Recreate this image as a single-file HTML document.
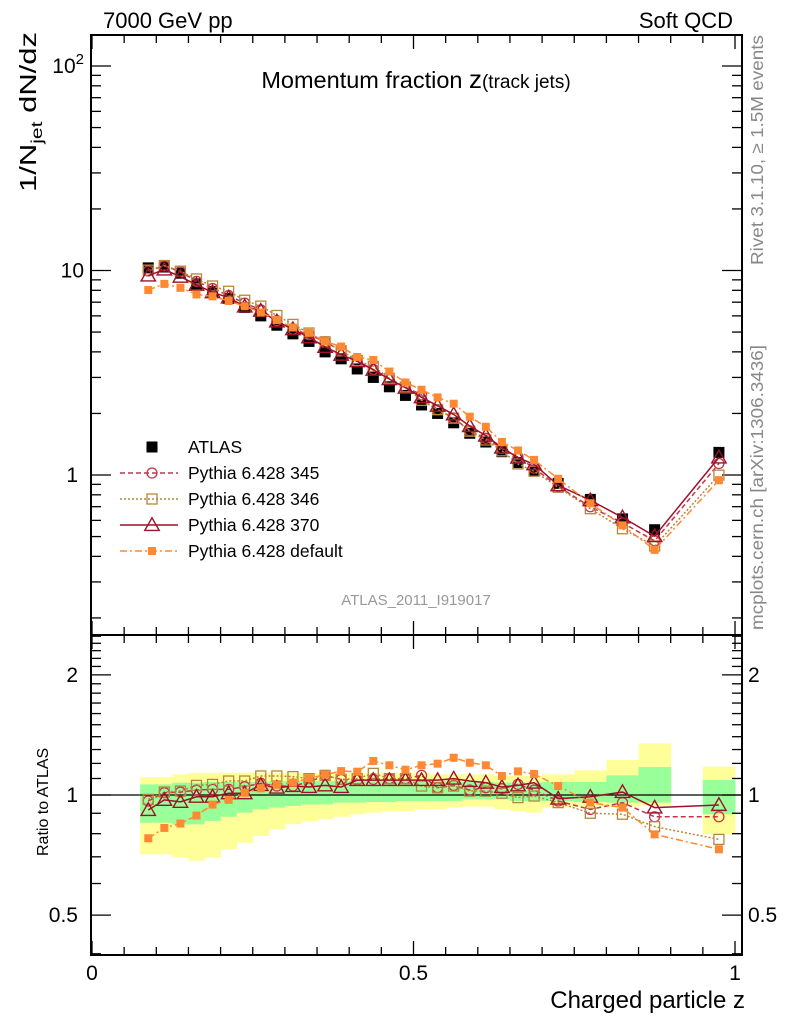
<!DOCTYPE html>
<html><head><meta charset="utf-8">
<style>
html,body{margin:0;padding:0;background:#fff;}
svg{display:block;font-family:"Liberation Sans",Arial,sans-serif;}
</style></head>
<body>
<svg id="chart" width="786" height="1024" viewBox="0 0 786 1024" xmlns="http://www.w3.org/2000/svg">
<g id="bands"></g>
<g id="grid"></g>
<g id="series"></g>
<text x="103" y="28" font-size="22">7000 GeV pp</text>
<text x="733" y="28" font-size="22" text-anchor="end">Soft QCD</text>
<text x="416" y="88" font-size="23.5" text-anchor="middle">Momentum fraction <tspan font-size="26">z</tspan><tspan font-size="19">(track jets)</tspan></text>
<text transform="translate(36,192) rotate(-90)" font-size="23.5" textLength="160" lengthAdjust="spacingAndGlyphs">1/N<tspan font-size="16" dy="6">jet</tspan><tspan dy="-6"> dN/dz</tspan></text>
<text transform="translate(48,856) rotate(-90)" font-size="16">Ratio to ATLAS</text>
<text x="745" y="1008" font-size="24" text-anchor="end">Charged particle z</text>
<text transform="translate(763,265) rotate(-90)" font-size="17.5" fill="#888" textLength="230" lengthAdjust="spacingAndGlyphs">Rivet 3.1.10, ≥ 1.5M events</text>
<text transform="translate(763,630) rotate(-90)" font-size="17.5" fill="#888" textLength="285" lengthAdjust="spacingAndGlyphs">mcplots.cern.ch [arXiv:1306.3436]</text>
<text x="416" y="605" font-size="15" fill="#999" text-anchor="middle">ATLAS_2011_I919017</text>
<g id="legend"></g>
</svg>
<script>
// Bin centres (z)
const zCenters = [0.0875,0.1125,0.1375,0.1625,0.1875,0.2125,0.2375,0.2625,0.2875,0.3125,0.3375,0.3625,0.3875,0.4125,0.4375,0.4625,0.4875,0.5125,0.5375,0.5625,0.5875,0.6125,0.6375,0.6625,0.6875,0.725,0.775,0.825,0.875,0.975];
const zHalfW = [0.0125,0.0125,0.0125,0.0125,0.0125,0.0125,0.0125,0.0125,0.0125,0.0125,0.0125,0.0125,0.0125,0.0125,0.0125,0.0125,0.0125,0.0125,0.0125,0.0125,0.0125,0.0125,0.0125,0.0125,0.0125,0.025,0.025,0.025,0.025,0.025];
const atlas = [10.3,10.4,9.7,8.6,7.9,7.3,6.6,6.0,5.4,4.9,4.5,4.0,3.7,3.3,3.0,2.7,2.45,2.2,2.0,1.8,1.6,1.45,1.3,1.15,1.05,0.91,0.76,0.61,0.54,1.29];
const ratio345 = [0.966,1.013,1.017,1.029,1.033,1.033,1.049,1.07,1.053,1.053,1.078,1.12,1.094,1.09,1.094,1.099,1.099,1.12,1.043,1.057,1.029,1.043,1.037,1.063,1.029,0.966,0.92,0.957,0.882,0.882];
const ratio346 = [0.975,1.017,1.023,1.057,1.063,1.084,1.084,1.116,1.116,1.112,1.099,1.12,1.094,1.099,1.133,1.099,1.099,1.053,1.043,1.053,1.023,1.023,1.01,0.985,0.994,0.957,0.9,0.895,0.833,0.774];
const ratio370 = [0.917,0.972,0.961,0.99,0.99,1.01,1.01,1.059,1.043,1.053,1.047,1.057,1.047,1.09,1.09,1.09,1.09,1.09,1.09,1.099,1.084,1.074,1.047,1.057,1.074,0.979,0.99,1.017,0.93,0.944];
const ratioDef = [0.779,0.827,0.848,0.888,0.946,0.972,1.013,1.039,1.061,1.074,1.101,1.124,1.148,1.144,1.217,1.187,1.157,1.187,1.198,1.24,1.205,1.187,1.116,1.146,1.129,1.053,0.957,0.93,0.797,0.731];
const yellowHi = [1.109,1.109,1.127,1.137,1.137,1.137,1.137,1.137,1.137,1.137,1.137,1.137,1.137,1.137,1.137,1.137,1.137,1.137,1.127,1.127,1.127,1.127,1.116,1.116,1.116,1.127,1.153,1.224,1.347,1.178];
const greenHi = [1.063,1.063,1.074,1.074,1.078,1.078,1.078,1.078,1.084,1.084,1.084,1.084,1.084,1.084,1.084,1.084,1.084,1.084,1.084,1.078,1.078,1.078,1.074,1.074,1.074,1.078,1.078,1.12,1.175,1.09];
const greenLo = [0.852,0.852,0.844,0.844,0.861,0.882,0.903,0.921,0.93,0.939,0.947,0.947,0.957,0.957,0.96,0.96,0.966,0.966,0.966,0.966,0.975,0.975,0.975,0.966,0.966,0.966,0.96,0.957,0.957,0.895];
const yellowLo = [0.71,0.71,0.697,0.684,0.697,0.731,0.76,0.789,0.82,0.845,0.86,0.869,0.882,0.895,0.903,0.912,0.912,0.921,0.921,0.93,0.935,0.935,0.921,0.912,0.903,0.93,0.935,0.935,0.94,0.797];
const xTickLabels = ["0","0.5","1"];
const xTickValues = [0,0.5,1];
const yMainLabels = ["1","10","10²"];
const yRatioLabels = ["0.5","1","2"];
const yRatioValues = [0.5,1,2];

const NS="http://www.w3.org/2000/svg";
const X0=92,X1=735,L=91,R=742,T=35,MB=635,RB=955;
const xs=z=>X0+z*(X1-X0);
const ym=v=>475-204.5*Math.log10(v);
const yr=r=>795-399*Math.log10(r);
function mk(tag,attrs,parent){const e=document.createElementNS(NS,tag);for(const k in attrs)e.setAttribute(k,attrs[k]);parent.appendChild(e);return e;}
const bands=document.getElementById('bands'),grid=document.getElementById('grid'),ser=document.getElementById('series'),leg=document.getElementById('legend');

zCenters.forEach((z,i)=>{
  const xa=xs(z-zHalfW[i]),xb=xs(z+zHalfW[i]);
  const y1=mk('rect',{x:xa,y:yr(yellowHi[i]),width:xb-xa+0.5,height:yr(yellowLo[i])-yr(yellowHi[i]),fill:'#ffff99'},bands);
  
  
  const g1=mk('rect',{x:xa,y:yr(greenHi[i]),width:xb-xa+0.5,height:yr(greenLo[i])-yr(greenHi[i]),fill:'#99ff99'},bands);
  
  
});

[[T,MB],[MB,RB]].forEach(([a,b])=>{
  const f=mk('rect',{x:L,y:a,width:R-L,height:b-a,fill:'none',stroke:'#000','stroke-width':2},grid);
  
  
});
for(let k=0;k<=20;k++){const z=k*0.05,x=xs(z),maj=(k%10==0);const len=maj?14:8;
  [[T,1],[MB,-1],[MB,1],[RB,-1]].forEach(([y,d])=>mk('line',{x1:x,x2:x,y1:y,y2:y+d*len,stroke:'#000','stroke-width':1.3},grid));}
xTickValues.forEach((v,i)=>{const t=mk('text',{x:xs(v),y:980,'font-size':21,'text-anchor':'middle'},grid);t.textContent=xTickLabels[i];
  
  });
for(let d=-1;d<=2;d++)for(let m=1;m<=9;m++){const v=m*Math.pow(10,d);const y=ym(v);if(y<T||y>MB)continue;const len=m==1?20:10;
  mk('line',{x1:L,x2:L+len,y1:y,y2:y,stroke:'#000','stroke-width':1.3},grid);mk('line',{x1:R,x2:R-len,y1:y,y2:y,stroke:'#000','stroke-width':1.3},grid);}
[[70,ym(1)],[60,ym(10)],[66,ym(100)]].forEach(([x,y],i)=>{const t=mk('text',{x:i==0?78:84,y:y+7,'font-size':21,'text-anchor':'end'},grid);
  if(i==2){t.textContent='10';const s=mk('tspan',{'font-size':15,dy:-9},t);s.textContent='2';}else t.textContent=yMainLabels[i];
  
  });
const rt=[0.4,0.6,0.7,0.8,0.9,1.1,1.2,1.3,1.4,1.5,1.6,1.7,1.8,1.9,2.1,2.2,2.3,2.4,2.5];
rt.forEach(r=>{const y=yr(r);if(y<MB||y>RB)return;mk('line',{x1:L,x2:L+10,y1:y,y2:y,stroke:'#000','stroke-width':1.3},grid);mk('line',{x1:R,x2:R-10,y1:y,y2:y,stroke:'#000','stroke-width':1.3},grid);});
yRatioValues.forEach((r,i)=>{const y=yr(r);mk('line',{x1:L,x2:L+20,y1:y,y2:y,stroke:'#000','stroke-width':1.3},grid);mk('line',{x1:R,x2:R-20,y1:y,y2:y,stroke:'#000','stroke-width':1.3},grid);
  const t=mk('text',{x:78,y:y+7,'font-size':21,'text-anchor':'end'},grid);t.textContent=yRatioLabels[i];
  
  
  const t2=mk('text',{x:748,y:y+7,'font-size':21},grid);t2.textContent=yRatioLabels[i];
  
  });
mk('line',{x1:L,x2:R,y1:yr(1),y2:yr(1),stroke:'#000','stroke-width':1.3},grid);

function marker(kind,x,y,col,g,s){
  if(kind=='fsq')return mk('rect',{x:x-s/2,y:y-s/2,width:s,height:s,fill:col},g);
  if(kind=='sq')return mk('rect',{x:x-s/2,y:y-s/2,width:s,height:s,fill:'none',stroke:col,'stroke-width':1.3},g);
  if(kind=='ci')return mk('circle',{cx:x,cy:y,r:s/2,fill:'none',stroke:col,'stroke-width':1.3},g);
  if(kind=='tri')return mk('path',{d:`M${x},${y-s*0.6}L${x+s*0.6},${y+s*0.45}L${x-s*0.6},${y+s*0.45}Z`,fill:'none',stroke:col,'stroke-width':1.4},g);
}
const mcs=[
  {name:'Pythia 6.428 345',r:ratio345,col:'#c4344f',kind:'ci',dash:'5,3',s:10,id:'pythia-345'},
  {name:'Pythia 6.428 346',r:ratio346,col:'#b8863b',kind:'sq',dash:'2,2',s:10,id:'pythia-346'},
  {name:'Pythia 6.428 370',r:ratio370,col:'#a0102a',kind:'tri',dash:'',s:12,id:'pythia-370'},
  {name:'Pythia 6.428 default',r:ratioDef,col:'#ff8833',kind:'fsq',dash:'7,3,2,3',s:8,id:'pythia-default'}
];
mcs.forEach(m=>{
  const g=mk('g',{},ser);
  
  
  const mainPts=zCenters.map((z,i)=>[xs(z),ym(atlas[i]*m.r[i])]);
  const ratPts=zCenters.map((z,i)=>[xs(z),yr(m.r[i])]);
  [mainPts,ratPts].forEach(p=>{
    const pl=mk('polyline',{points:p.map(q=>q.join(',')).join(' '),fill:'none',stroke:m.col,'stroke-width':1.5,'stroke-dasharray':m.dash},g);
    
    
    p.forEach(q=>{const e=marker(m.kind,q[0],q[1],m.col,g,m.s);
      
      });
  });
});
const ag=mk('g',{},ser);ser.insertBefore(ag,ser.firstChild);


zCenters.forEach((z,i)=>{const e=marker('fsq',xs(z),ym(atlas[i]),'#000',ag,11);
  
  });

const rows=[{name:'ATLAS',kind:'fsq',col:'#000',dash:null,s:11}].concat(mcs);
rows.forEach((m,i)=>{const y=447+i*26;const g=mk('g',{},leg);
  
  
  if(m.dash!==null)mk('line',{x1:120,x2:178,y1:y,y2:y,stroke:m.col,'stroke-width':1.5,'stroke-dasharray':m.dash},g);
  marker(m.kind,152,y,m.col,g,m.s);
  const t=mk('text',{x:188,y:y+6,'font-size':17.5},g);t.textContent=m.name;});
</script>
</body></html>
